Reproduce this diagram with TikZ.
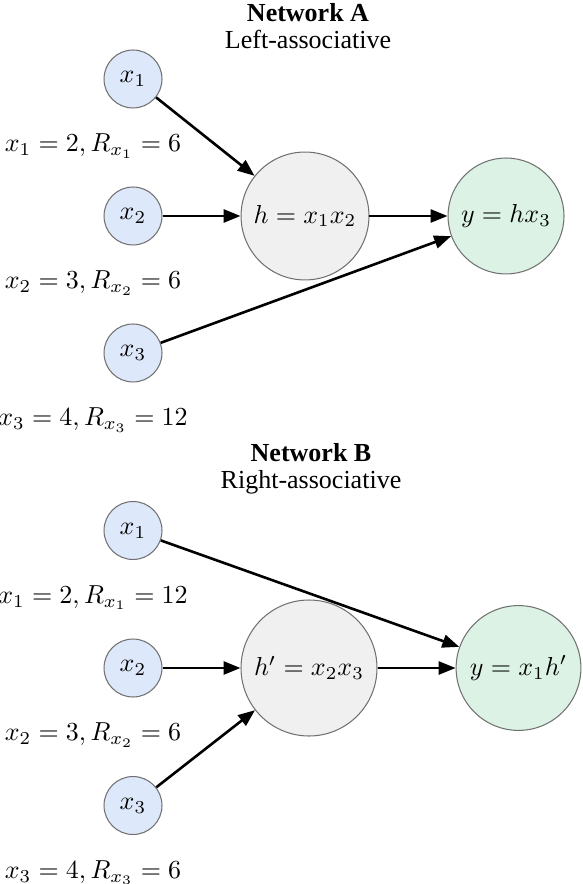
\documentclass[tikz,border=0pt]{standalone}
\usepackage{fontspec}
\newfontfamily\headfont{Liberation Serif}
\usetikzlibrary{arrows.meta}

\definecolor{inblue}{HTML}{DEE8FB}
\definecolor{hidgray}{HTML}{F0F0F0}
\definecolor{outgreen}{HTML}{DCF2E5}
\definecolor{rimgray}{HTML}{707070}

\tikzset{
	innode/.style={circle, draw=rimgray, fill=inblue, inner sep=0pt, minimum size=22.3pt},
	hidnode/.style={circle, draw=rimgray, fill=hidgray, inner sep=0pt},
	outnode/.style={circle, draw=rimgray, fill=outgreen, inner sep=0pt},
	link/.style={black, line width=1pt, ->, >={Triangle[length=6.5pt, width=5pt]}}
}

\begin{document}
\begin{tikzpicture}[x=0.3846pt, y=-0.3846pt]
	\useasboundingbox (0,0) rectangle (582,884);
	% Network A
	\node (titleA) at (308,13) {\headfont\bfseries Network A};
	\node (subA) at (308,39) {\headfont Left-associative};
	\foreach \i/\yy/\v/\r in {1/79/2/6, 2/216/3/6, 3/353/4/12} {
		\node [innode] (a\i) at (133,\yy) {$x_\i$};
		\node (la\i) at (93,\yy+67) {$x_\i = \v, R_{x_\i} = \r$};
	}
	\node [hidnode, minimum size=49.2pt] (hA) at (305,216) {$h = x_1x_2$};
	\node [outnode, minimum size=44.6pt] (yA) at (506,216) {$y = hx_3$};
	\draw [link] (a1) -- (hA);
	\draw [link] (a2) -- (hA);
	\draw [link] (hA) -- (yA);
	\draw [link] (a3) -- (yA);
	% Network B
	\node (titleB) at (311,453) {\headfont\bfseries Network B};
	\node (subB) at (311,482) {\headfont Right-associative};
	\foreach \i/\yy/\v/\r in {1/530.5/2/12, 2/668/3/6, 3/805.5/4/6} {
		\node [innode] (b\i) at (133,\yy) {$x_\i$};
		\node (lb\i) at (93,\yy+67) {$x_\i = \v, R_{x_\i} = \r$};
	}
	\node [hidnode, minimum size=52.3pt] (hB) at (309,668) {$h' = x_2x_3$};
	\node [outnode, minimum size=48pt] (yB) at (518.5,668) {$y = x_1h'$};
	\draw [link] (b1) -- (yB);
	\draw [link] (b2) -- (hB);
	\draw [link] (b3) -- (hB);
	\draw [link] (hB) -- (yB);
\end{tikzpicture}
\end{document}
